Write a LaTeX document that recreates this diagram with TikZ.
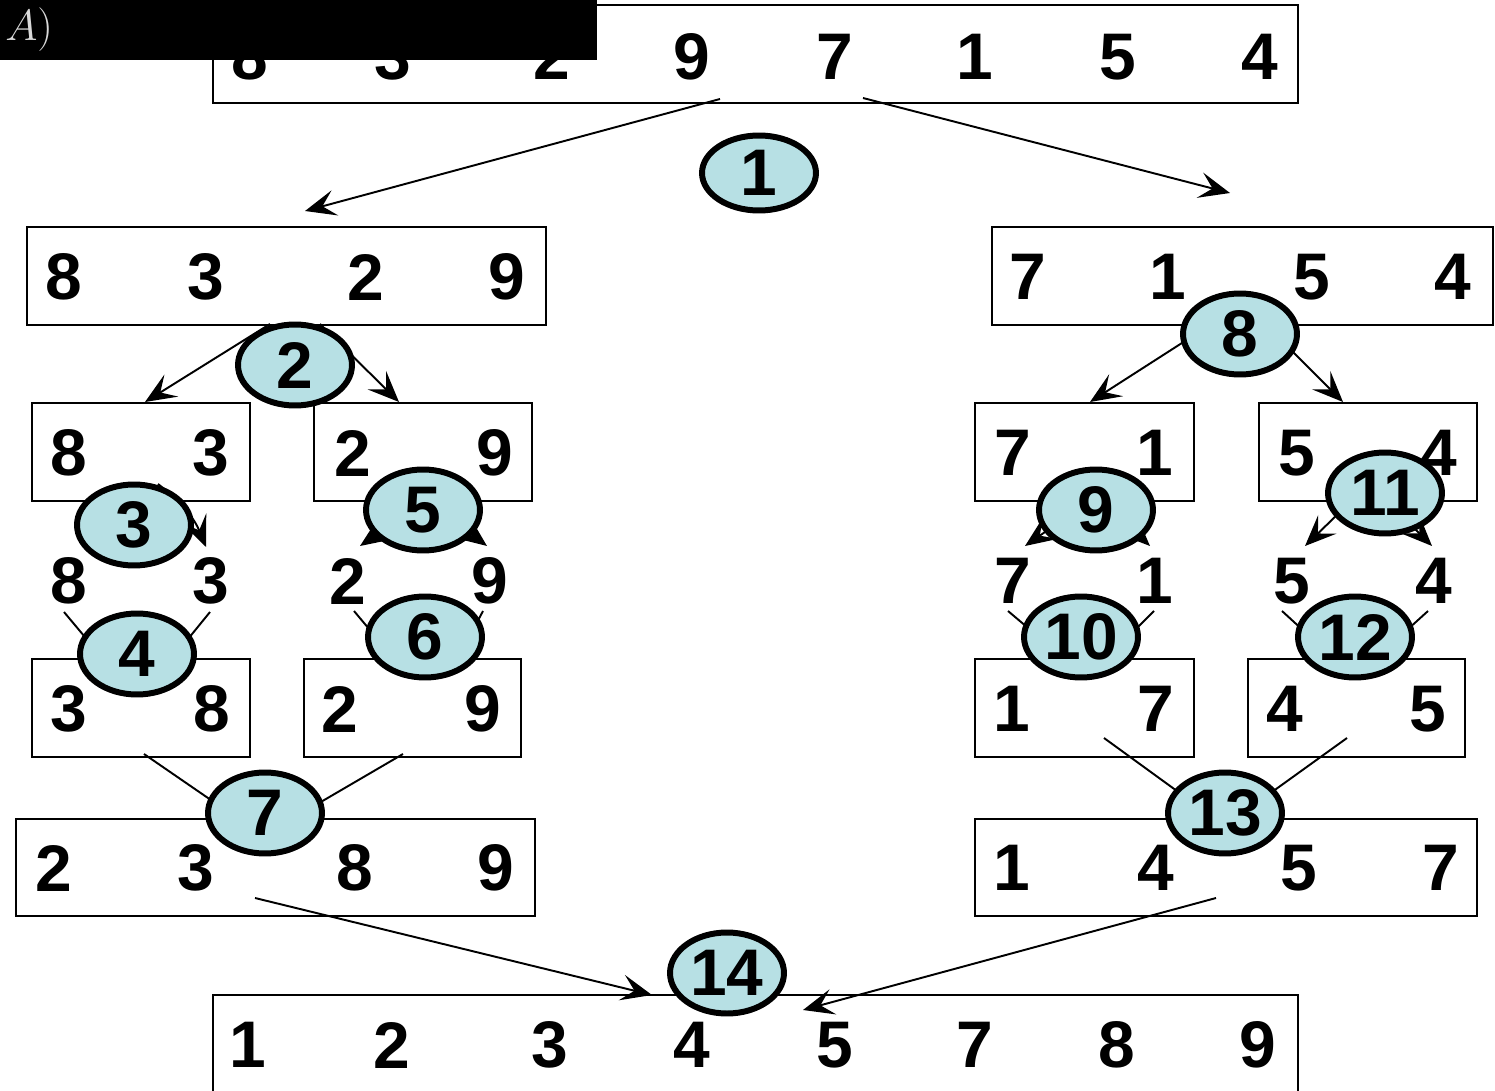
\documentclass[tikz,border=0pt]{standalone}
\usepackage{fontspec}
\newfontfamily\arial{Liberation Sans}
\usetikzlibrary{arrows.meta,shapes.geometric}
\definecolor{cyanfill}{RGB}{183,224,228}
\begin{document}
\begin{tikzpicture}[x=0.02cm,y=-0.02cm,
  box/.style={draw, line width=1.1pt, inner sep=0pt, outer sep=0pt, minimum height=1.96cm},
  dig/.style={font=\arial\bfseries\fontsize{37.5}{40}\selectfont, inner sep=0pt},
  stepell/.style={ellipse, draw, line width=3.4pt, fill=cyanfill, minimum width=2.28cm,
    minimum height=1.62cm, inner sep=0pt, font=\arial\bfseries\fontsize{37.5}{40}\selectfont},
  conn/.style={line width=1.1pt},
  arr/.style={conn, -{Stealth[length=0.62cm,width=0.52cm,inset=0.26cm]}},
]
\useasboundingbox (0,0) rectangle (1495,1091);
\fill[white] (0,0) rectangle (1495,1091);

% ---------- boxes ----------
\node[box, minimum width=21.7cm] (top) at (755.5,54) {};
\node[box, minimum width=10.38cm] (l2a) at (286.5,276) {};
\node[box, minimum width=10.02cm] (l2b) at (1242.5,276) {};
\node[box, minimum width=4.36cm] (l3a) at (141,452) {};
\node[box, minimum width=4.36cm] (l3b) at (423,452) {};
\node[box, minimum width=4.38cm] (l3c) at (1084.5,452) {};
\node[box, minimum width=4.36cm] (l3d) at (1368,452) {};
\node[box, minimum width=4.36cm] (l5a) at (141,708) {};
\node[box, minimum width=4.34cm] (l5b) at (412.5,708) {};
\node[box, minimum width=4.38cm] (l5c) at (1084.5,708) {};
\node[box, minimum width=4.34cm] (l5d) at (1356.5,708) {};
\node[box, minimum width=10.38cm, minimum height=1.94cm] (l6a) at (275.5,867.5) {};
\node[box, minimum width=10.04cm, minimum height=1.94cm] (l6b) at (1226,867.5) {};
\node[box, minimum width=21.7cm] (bot) at (755.5,1044) {};

% ---------- digits ----------
\foreach \n/\x/\v in {1/250/8,2/393/3,3/552/2,4/692/9,5/835/7,6/975/1,7/1118/5,8/1260/4}
  \node[dig] (t\n) at (\x,57) {\v};
\foreach \n/\x/\v in {1/64/8,2/206/3,3/366/2,4/507/9,5/1028/7,6/1168/1,7/1312/5,8/1453/4}
  \node[dig] (m\n) at (\x,277) {\v};
\foreach \n/\x/\v in {1/69/8,2/211/3,3/353/2,4/495/9,5/1013/7,6/1155/1,7/1297/5,8/1439/4}
  \node[dig] (p\n) at (\x,453) {\v};
\foreach \n/\x/\v in {1/69/8,2/211/3,3/348/2,4/490/9,5/1013/7,6/1155/1,7/1292/5,8/1434/4}
  \node[dig] (q\n) at (\x,581) {\v};
\foreach \n/\x/\v in {1/69/3,2/212/8,3/340/2,4/483/9,5/1012/1,6/1156/7,7/1285/4,8/1428/5}
  \node[dig] (r\n) at (\x,709) {\v};
\foreach \n/\x/\v in {1/54/2,2/196/3,3/355/8,4/496/9,5/1012/1,6/1156/4,7/1299/5,8/1441/7}
  \node[dig] (s\n) at (\x,868) {\v};
\foreach \n/\x/\v in {1/248/1,2/392/2,3/550/3,4/692/4,5/835/5,6/975/7,7/1117/8,8/1258/9}
  \node[dig] (b\n) at (\x,1045) {\v};

% ---------- connector end points ----------
\coordinate (c1a) at (720,99);   \coordinate (c1b) at (305,211);
\coordinate (c1c) at (863,98);   \coordinate (c1d) at (1230,193);
\coordinate (c2a) at (270,324);  \coordinate (c2b) at (145,402);
\coordinate (c2c) at (320,324);  \coordinate (c2d) at (399,402);
\coordinate (c3a) at (110,492);  \coordinate (c3b) at (82,546);
\coordinate (c3c) at (158,484);  \coordinate (c3d) at (206,547);
\coordinate (c4a) at (64,612);   \coordinate (c4b) at (100,655);
\coordinate (c4c) at (210,612);  \coordinate (c4d) at (175,655);
\coordinate (c5a) at (395,522);  \coordinate (c5b) at (360,546);
\coordinate (c5c) at (455,522);  \coordinate (c5d) at (487,546);
\coordinate (c6a) at (354,611);  \coordinate (c6b) at (385,648);
\coordinate (c6c) at (483,611);  \coordinate (c6d) at (465,645);
\coordinate (c7a) at (144,754);  \coordinate (c7b) at (240,820);
\coordinate (c7c) at (403,754);  \coordinate (c7d) at (290,820);
\coordinate (c8a) at (1210,325); \coordinate (c8b) at (1090,402);
\coordinate (c8c) at (1266,325); \coordinate (c8d) at (1343,402);
\coordinate (c9a) at (1055,525); \coordinate (c9b) at (1025,546);
\coordinate (c9c) at (1125,522); \coordinate (c9d) at (1150,546);
\coordinate (c10a) at (1008,611); \coordinate (c10b) at (1060,655);
\coordinate (c10c) at (1154,611); \coordinate (c10d) at (1110,655);
\coordinate (c11a) at (1340,512); \coordinate (c11b) at (1305,546);
\coordinate (c11c) at (1408,522); \coordinate (c11d) at (1432,546);
\coordinate (c12a) at (1282,611); \coordinate (c12b) at (1330,655);
\coordinate (c12c) at (1428,611); \coordinate (c12d) at (1385,650);
\coordinate (c13a) at (1104,738); \coordinate (c13b) at (1210,815);
\coordinate (c13c) at (1347,738); \coordinate (c13d) at (1240,815);
\coordinate (c14a) at (255,898);  \coordinate (c14b) at (652,995);
\coordinate (c14c) at (1216,898); \coordinate (c14d) at (803,1010);

% ---------- connectors ----------
\draw[arr] (c1a) -- (c1b);
\draw[arr] (c1c) -- (c1d);
\draw[arr] (c2a) -- (c2b);
\draw[arr] (c2c) -- (c2d);
\draw[arr] (c3a) -- (c3b);
\draw[arr] (c3c) to[bend left=15] (c3d);
\draw[conn] (c4a) -- (c4b);
\draw[conn] (c4c) -- (c4d);
\draw[arr] (c5a) -- (c5b);
\draw[arr] (c5c) -- (c5d);
\draw[conn] (c6a) -- (c6b);
\draw[conn] (c6c) -- (c6d);
\draw[conn] (c7a) -- (c7b);
\draw[conn] (c7c) -- (c7d);
\draw[arr] (c8a) -- (c8b);
\draw[arr] (c8c) -- (c8d);
\draw[arr] (c9a) -- (c9b);
\draw[arr] (c9c) -- (c9d);
\draw[conn] (c10a) -- (c10b);
\draw[conn] (c10c) -- (c10d);
\draw[arr] (c11a) -- (c11b);
\draw[arr] (c11c) -- (c11d);
\draw[conn] (c12a) -- (c12b);
\draw[conn] (c12c) -- (c12d);
\draw[conn] (c13a) -- (c13b);
\draw[conn] (c13c) -- (c13d);
\draw[arr] (c14a) -- (c14b);
\draw[arr] (c14c) -- (c14d);

% ---------- step ellipses ----------
\node[stepell, minimum height=1.5cm] (e1) at (759,173) {1};
\node[stepell] (e2) at (295,365) {2};
\node[stepell] (e3) at (134,525) {3};
\node[stepell] (e4) at (137,654) {4};
\node[stepell] (e5) at (423,510) {5};
\node[stepell] (e6) at (425,637) {6};
\node[stepell] (e7) at (265,813) {7};
\node[stepell] (e8) at (1240,334) {8};
\node[stepell] (e9) at (1096,510) {9};
\node[stepell] (e10) at (1081,637) {10};
\node[stepell] (e11) at (1385,493) {11};
\node[stepell] (e12) at (1355,637) {12};
\node[stepell] (e13) at (1225,813) {13};
\node[stepell] (e14) at (727,973) {14};

% ---------- black label band ----------
\fill[black] (0,0) rectangle (597,60);
\node[text=white!85!black, font=\fontsize{26}{28}\selectfont, anchor=west, inner sep=0pt] (lbl) at (5,30) {$A)$};
\end{tikzpicture}
\end{document}
